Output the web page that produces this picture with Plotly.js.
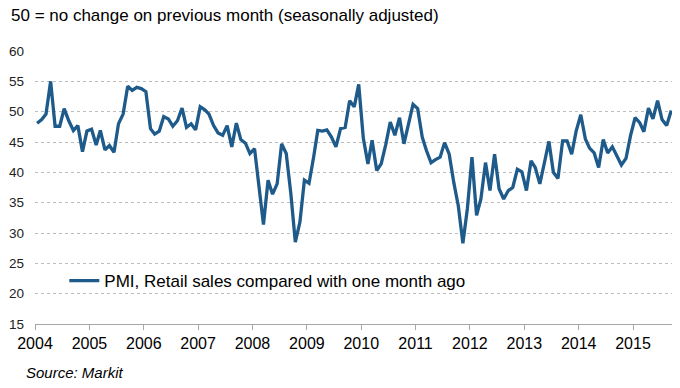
<!DOCTYPE html>
<html>
<head>
<meta charset="utf-8">
<script src="https://cdn.plot.ly/plotly-3.0.1.min.js"></script>
<style>html,body{margin:0;padding:0;background:#fff;}#chart{width:680px;height:388px;}</style>
</head>
<body>
<div id="chart"></div>
<script>
// Monthly PMI values, Jan..Dec of each year (2015 ends in September)
const v2004 = [48.1, 48.7, 49.6, 55.0, 47.6, 47.6, 50.5, 48.5, 46.9, 47.7, 43.4, 46.8];
const v2005 = [47.1, 44.5, 46.9, 43.7, 44.4, 43.3, 48.0, 49.6, 54.2, 53.5, 54.0, 53.8];
const v2006 = [53.3, 47.2, 46.3, 46.8, 49.2, 48.8, 47.6, 48.5, 50.6, 47.4, 48.0, 47.0];
const v2007 = [50.8, 50.3, 49.6, 47.7, 46.5, 46.1, 47.7, 44.2, 48.1, 45.4, 44.8, 43.1];
const v2008 = [43.9, 37.6, 31.4, 38.7, 36.4, 38.1, 44.7, 43.1, 36.5, 28.5, 31.8, 38.7];
const v2009 = [38.2, 42.5, 46.9, 46.8, 47.0, 45.8, 44.2, 47.2, 47.4, 51.8, 50.8, 54.5];
const v2010 = [45.6, 41.4, 45.3, 40.3, 41.4, 44.6, 48.3, 46.1, 49.0, 44.7, 48.1, 51.2];
const v2011 = [50.5, 45.8, 43.6, 41.6, 42.1, 42.5, 44.9, 43.0, 38.3, 34.5, 28.3, 34.0];
const v2012 = [42.5, 32.9, 35.6, 41.6, 37.0, 43.0, 37.3, 35.6, 37.0, 37.5, 40.5, 40.1];
const v2013 = [37.0, 41.9, 40.8, 38.1, 41.5, 45.1, 40.0, 39.0, 45.2, 45.2, 43.0, 46.8];
const v2014 = [49.5, 45.5, 44.0, 43.2, 40.8, 45.4, 43.2, 44.2, 42.7, 41.2, 42.3, 46.0];
const v2015 = [49.0, 48.2, 46.7, 50.6, 48.8, 51.8, 48.7, 47.7, 50.2];

const years = [2004, 2005, 2006, 2007, 2008, 2009, 2010, 2011, 2012, 2013, 2014, 2015];
const yearValues = [v2004, v2005, v2006, v2007, v2008, v2009, v2010, v2011, v2012, v2013, v2014, v2015];

const seriesName = 'PMI, Retail sales compared with one month ago';
const titleText = '50 = no change on previous month (seasonally adjusted)';
const sourceText = 'Source: Markit';

const xDates = [];
const yVals = [];
years.forEach((yr, i) => {
  yearValues[i].forEach((v, m) => {
    xDates.push(yr + '-' + String(m + 1).padStart(2, '0') + '-15');
    yVals.push(v);
  });
});

const font = 'Arial, "Liberation Sans", Helvetica, sans-serif';

const trace = {
  x: xDates,
  y: yVals,
  type: 'scatter',
  mode: 'lines',
  name: seriesName,
  line: {color: '#1e5a8a', width: 3.3}
};

const layout = {
  width: 680,
  height: 388,
  margin: {l: 35, r: 8, t: 51, b: 64},
  paper_bgcolor: '#ffffff',
  plot_bgcolor: '#ffffff',
  font: {family: font, color: '#000'},
  title: {
    text: titleText,
    font: {family: font, size: 17, color: '#000'},
    x: 11 / 680, xref: 'container', xanchor: 'left',
    y: 1 - 15 / 388, yref: 'container', yanchor: 'middle'
  },
  xaxis: {
    type: 'date',
    range: ['2004-01-01', '2015-09-20'],
    tick0: '2004-01-01',
    dtick: 'M12',
    tickformat: '%Y',
    showgrid: false,
    showline: true,
    linecolor: '#a6a6a6',
    linewidth: 1,
    ticks: 'outside',
    ticklen: 5,
    tickcolor: '#a6a6a6',
    tickfont: {family: font, size: 16, color: '#000'},
    zeroline: false,
    fixedrange: true
  },
  yaxis: {
    range: [15, 60],
    dtick: 5,
    tick0: 15,
    showgrid: true,
    gridcolor: '#bdbdbd',
    griddash: 'dot',
    gridwidth: 1,
    showline: false,
    ticks: '',
    zeroline: false,
    ticklabelstandoff: 10,
    tickfont: {family: font, size: 13.5, color: '#222'},
    fixedrange: true
  },
  showlegend: true,
  legend: {
    x: 0.046, xref: 'paper', xanchor: 'left',
    y: 0.157, yref: 'paper', yanchor: 'middle',
    bgcolor: 'rgba(0,0,0,0)',
    font: {family: font, size: 17, color: '#000'}
  },
  annotations: [{
    text: '<i>' + sourceText + '</i>',
    xref: 'paper', yref: 'paper',
    x: -11 / 637, y: -48 / 273, xanchor: 'left', yanchor: 'middle',
    showarrow: false,
    font: {family: font, size: 15, color: '#000'}
  }]
};

Plotly.newPlot('chart', [trace], layout, {displayModeBar: false, staticPlot: true});
</script>
</body>
</html>
